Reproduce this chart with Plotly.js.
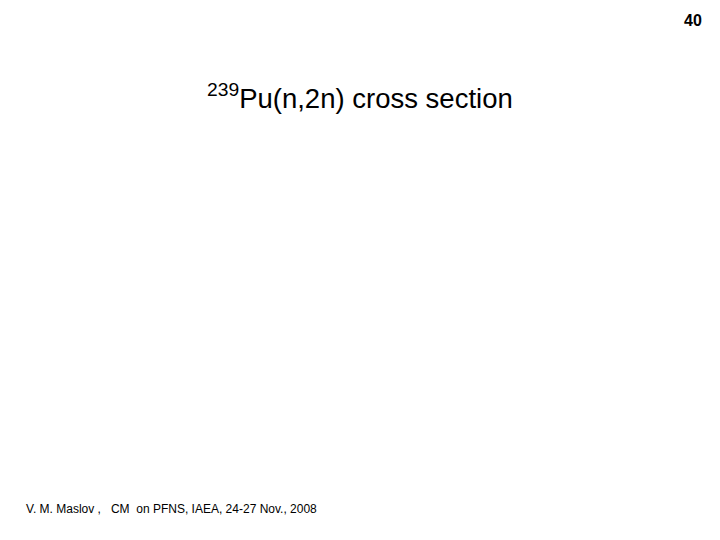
<!DOCTYPE html>
<html>
<head>
<meta charset="utf-8">
<script src="https://cdn.plot.ly/plotly-3.0.1.min.js"></script>
<style>
  html, body { margin: 0; padding: 0; background: #ffffff; }
  #slide { width: 720px; height: 540px; }
</style>
</head>
<body>
<div id="slide"></div>
<script>
// slide texts
var pageNumber = '40';
var isotope = '239';
var titleText = 'Pu(n,2n) cross section';
var footerText = 'V. M. Maslov ,&nbsp;&nbsp; CM&nbsp; on PFNS, IAEA, 24-27 Nov., 2008';

var W = 720, H = 540;
function px(x) { return x / W; }
function py(y) { return 1 - y / H; }

// the slide has no plotted data, only an empty area
var layout = {
    width: W,
    height: H,
    margin: { l: 0, r: 0, t: 0, b: 0 },
    paper_bgcolor: '#ffffff',
    plot_bgcolor: '#ffffff',
    showlegend: false,
    xaxis: { visible: false, range: [0, 1] },
    yaxis: { visible: false, range: [0, 1] },
    annotations: [
        {
            text: '<sup>' + isotope + '</sup>' + titleText,
            xref: 'paper', yref: 'paper',
            x: px(360), y: py(96),
            xanchor: 'center', yanchor: 'middle',
            showarrow: false,
            font: { family: 'Liberation Sans, Arial, sans-serif', size: 27.5, color: '#000000' }
        },
        {
            text: footerText,
            xref: 'paper', yref: 'paper',
            x: px(24), y: py(509),
            xanchor: 'left', yanchor: 'middle',
            showarrow: false,
            font: { family: 'Liberation Sans, Arial, sans-serif', size: 12, color: '#000000' }
        },
        {
            text: '<b>' + pageNumber + '</b>',
            xref: 'paper', yref: 'paper',
            x: px(704), y: py(21),
            xanchor: 'right', yanchor: 'middle',
            showarrow: false,
            font: { family: 'Liberation Sans, Arial, sans-serif', size: 16, color: '#000000' }
        }
    ]
};

Plotly.newPlot('slide', [], layout, { staticPlot: true, displayModeBar: false });
</script>
</body>
</html>
